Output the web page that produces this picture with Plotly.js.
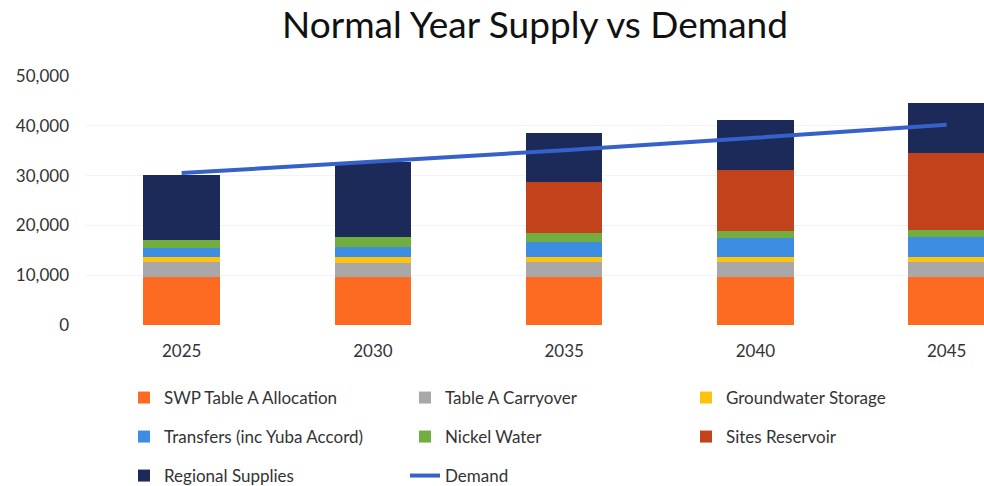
<!DOCTYPE html>
<html>
<head>
<meta charset="utf-8">
<script src="https://cdn.plot.ly/plotly-3.0.1.min.js"></script>
<style>html,body{margin:0;padding:0;background:#fff;}#chart{width:984px;height:486px;}</style>
</head>
<body>
<div id="chart"></div>
<script>
const years = ["2025", "2030", "2035", "2040", "2045"];
const swpTableA   = [9700, 9600, 9700, 9700, 9700];
const carryover   = [3000, 2900, 3000, 3000, 3000];
const groundwater = [1000, 1100, 1000, 1000, 1000];
const transfers   = [1700, 2100, 3000, 3700, 4000];
const nickelWater = [1700, 2000, 1700, 1500, 1400];
const sitesRes    = [0, 0, 10400, 12200, 15400];
const regional    = [13000, 15100, 9700, 10100, 10000];
const demand      = [30500, 32800, 35100, 37600, 40200];
const yTicks      = [0, 10000, 20000, 30000, 40000, 50000];

const series = [
  {name: "SWP Table A Allocation", y: swpTableA, color: "#fd6a22", legend: "legend"},
  {name: "Table A Carryover", y: carryover, color: "#a9a7a8", legend: "legend"},
  {name: "Groundwater Storage", y: groundwater, color: "#ffc20e", legend: "legend"},
  {name: "Transfers (inc Yuba Accord)", y: transfers, color: "#3d8de2", legend: "legend2"},
  {name: "Nickel Water", y: nickelWater, color: "#72ad3f", legend: "legend2"},
  {name: "Sites Reservoir", y: sitesRes, color: "#c2421b", legend: "legend2"},
  {name: "Regional Supplies", y: regional, color: "#1c2a5a", legend: "legend3"}
];

const traces = series.map(s => ({
  type: "bar", name: s.name, x: years, y: s.y, legend: s.legend,
  marker: {color: s.color, line: {width: 0}}, hoverinfo: "name+y"
}));
traces.push({
  type: "scatter", mode: "lines", name: "Demand", x: years, y: demand, legend: "legend3",
  line: {color: "#3561c9", width: 4}
});

const legendFont = {family: "Lato, 'Open Sans', sans-serif", size: 17, color: "#333"};
function mkLegend(y) {
  return {orientation: "h", xref: "container", yref: "container", x: 0.126, y: y,
    xanchor: "left", yanchor: "middle", entrywidth: 236, font: legendFont,
    bgcolor: "rgba(0,0,0,0)", traceorder: "normal", itemwidth: 30};
}

const layout = {
  width: 984, height: 486,
  margin: {l: 86, r: 0, t: 76, b: 161},
  paper_bgcolor: "#fff", plot_bgcolor: "#fff",
  title: {text: "Normal Year Supply vs Demand", x: 0.5, xref: "paper", y: 0.948, yref: "container",
    yanchor: "middle", font: {family: "Lato, 'Open Sans', sans-serif", size: 37, color: "#111"}},
  barmode: "stack", bargap: 0.6,
  xaxis: {type: "category", range: [-0.5, 4.195], showgrid: false, zeroline: false, showline: false,
    ticks: "", ticklabelstandoff: 14, tickfont: {family: "Lato, 'Open Sans', sans-serif", size: 17, color: "#333"}},
  yaxis: {range: [0, 50000], tickvals: yTicks, tickformat: ",d", showgrid: true, gridcolor: "#f3f3f3",
    zeroline: false, showline: false, ticks: "", ticklabelstandoff: 16,
    tickfont: {family: "Lato, 'Open Sans', sans-serif", size: 17, color: "#333"}},
  showlegend: true,
  legend: mkLegend(1 - 398 / 486),
  legend2: mkLegend(1 - 437 / 486),
  legend3: mkLegend(1 - 476 / 486)
};

Plotly.newPlot("chart", traces, layout, {displayModeBar: false, staticPlot: true});
</script>
</body>
</html>
